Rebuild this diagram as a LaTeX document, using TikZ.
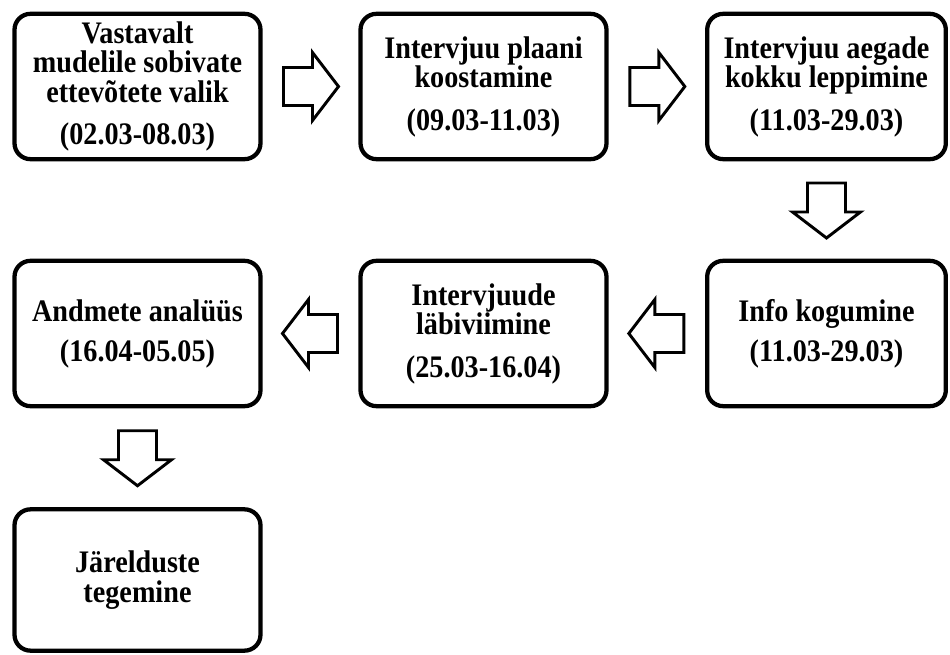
\documentclass[tikz,border=0pt]{standalone}
\usepackage{fontspec}
\setmainfont{Liberation Serif}[FakeStretch=0.9]
\usetikzlibrary{calc}
\tikzset{
  box/.style={draw, line width=3.2pt, rounded corners=12pt, align=center,
    minimum width=184.5pt, minimum height=109pt, inner sep=2pt,
    font=\fontsize{23.5}{22}\selectfont\bfseries},
  narrow/.style={minimum width=179pt},
  low/.style={minimum height=106pt},
  blockline/.style={draw, line width=2.2pt, line join=miter, fill=white},
  pics/blockarrow/.style={code={
    \path[blockline] (-27,-19) -- (2,-19) -- (2,-34) -- (28,0) -- (2,34) -- (2,19) -- (-27,19) -- cycle;}}
}
\begin{document}
\begin{tikzpicture}[x=0.75pt, y=-0.75pt]
\useasboundingbox (0,0) rectangle (950,655);
\node[box] (1) at (137.5,86.5) {Vastavalt\\mudelile sobivate\\ettevõtete valik\\[10pt](02.03-08.03)};
\node[box] (2) at (483.5,86.5) {Intervjuu plaani\\koostamine\\[10pt](09.03-11.03)};
\node[box, narrow] (3) at (826.5,86.5) {Intervjuu aegade\\kokku leppimine\\[10pt](11.03-29.03)};
\node[box, narrow] (4) at (826.5,333.5) {Info kogumine\\[8pt](11.03-29.03)};
\node[box] (5) at (483.5,333.5) {Intervjuude\\läbiviimine\\[10pt](25.03-16.04)};
\node[box] (6) at (137.5,333.5) {Andmete analüüs\\[8pt](16.04-05.05)};
\node[box, low] (7) at (137.5,580) {Järelduste\\tegemine};

\pic at ($(1.east)!0.5!(2.west)$) {blockarrow};
\pic at ($(2.east)!0.5!(3.west)$) {blockarrow};
\pic[rotate=-90] at ($(3.south)!0.5!(4.north)$) {blockarrow};
\pic[rotate=180] at ($(4.west)!0.5!(5.east)$) {blockarrow};
\pic[rotate=180] at ($(5.west)!0.5!(6.east)$) {blockarrow};
\pic[rotate=-90] at ($(6.south)!0.5!(7.north)$) {blockarrow};
\end{tikzpicture}
\end{document}
